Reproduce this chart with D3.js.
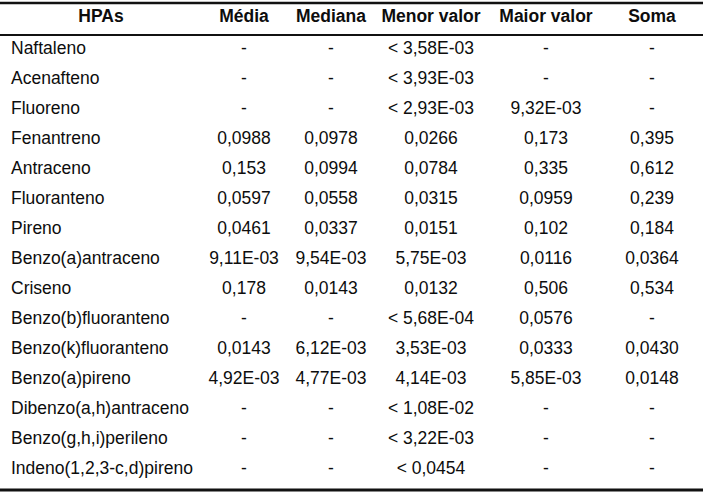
<!DOCTYPE html>
<html>
<head>
<meta charset="utf-8">
<script src="https://cdn.jsdelivr.net/npm/d3@7"></script>
<style>
  html, body { margin: 0; padding: 0; background: #fff; }
  svg { display: block; }
  text { font-family: "Liberation Sans", Arial, sans-serif; fill: #0d0d0d; }
</style>
</head>
<body>
<div id="chart"></div>
<script>
// ---- Data ----
const headers = ["HPAs", "Média", "Mediana", "Menor valor", "Maior valor", "Soma"];
const hpas = ["Naftaleno", "Acenafteno", "Fluoreno", "Fenantreno", "Antraceno", "Fluoranteno", "Pireno",
  "Benzo(a)antraceno", "Criseno", "Benzo(b)fluoranteno", "Benzo(k)fluoranteno", "Benzo(a)pireno",
  "Dibenzo(a,h)antraceno", "Benzo(g,h,i)perileno", "Indeno(1,2,3-c,d)pireno"];
const media = ["-", "-", "-", "0,0988", "0,153", "0,0597", "0,0461", "9,11E-03", "0,178", "-", "0,0143", "4,92E-03", "-", "-", "-"];
const mediana = ["-", "-", "-", "0,0978", "0,0994", "0,0558", "0,0337", "9,54E-03", "0,0143", "-", "6,12E-03", "4,77E-03", "-", "-", "-"];
const menorValor = ["< 3,58E-03", "< 3,93E-03", "< 2,93E-03", "0,0266", "0,0784", "0,0315", "0,0151", "5,75E-03", "0,0132", "< 5,68E-04", "3,53E-03", "4,14E-03", "< 1,08E-02", "< 3,22E-03", "< 0,0454"];
const maiorValor = ["-", "-", "9,32E-03", "0,173", "0,335", "0,0959", "0,102", "0,0116", "0,506", "0,0576", "0,0333", "5,85E-03", "-", "-", "-"];
const soma = ["-", "-", "-", "0,395", "0,612", "0,239", "0,184", "0,0364", "0,534", "-", "0,0430", "0,0148", "-", "-", "-"];

// ---- Layout ----
const W = 709, H = 495;
const svg = d3.select("#chart").append("svg").attr("width", W).attr("height", H);

const cols = [hpas, media, mediana, menorValor, maiorValor, soma];
const colX = d3.scaleOrdinal().domain(headers).range([101, 244, 331, 431, 546, 652]);
const rowY = d3.scalePoint().domain(hpas).range([54, 474]);
const fontSize = 17.5;

// rules
const rules = [{y: 3, w: 2.5}, {y: 35, w: 2}, {y: 490, w: 3}];
svg.selectAll("line.rule").data(rules).join("line")
  .attr("class", "rule")
  .attr("x1", 0).attr("x2", 703)
  .attr("y1", d => d.y).attr("y2", d => d.y)
  .attr("stroke", "#111").attr("stroke-width", d => d.w);

// header
svg.selectAll("text.hdr").data(headers).join("text")
  .attr("class", "hdr")
  .attr("x", d => colX(d)).attr("y", 22)
  .attr("text-anchor", "middle")
  .attr("font-size", fontSize).attr("font-weight", "bold")
  .text(d => d);

// body
headers.forEach((h, ci) => {
  svg.selectAll("text.c" + ci).data(cols[ci]).join("text")
    .attr("class", "c" + ci)
    .attr("x", ci === 0 ? 11 : colX(h))
    .attr("y", (d, i) => rowY(hpas[i]))
    .attr("text-anchor", ci === 0 ? "start" : "middle")
    .attr("font-size", fontSize)
    .text(d => d);
});
</script>
</body>
</html>
